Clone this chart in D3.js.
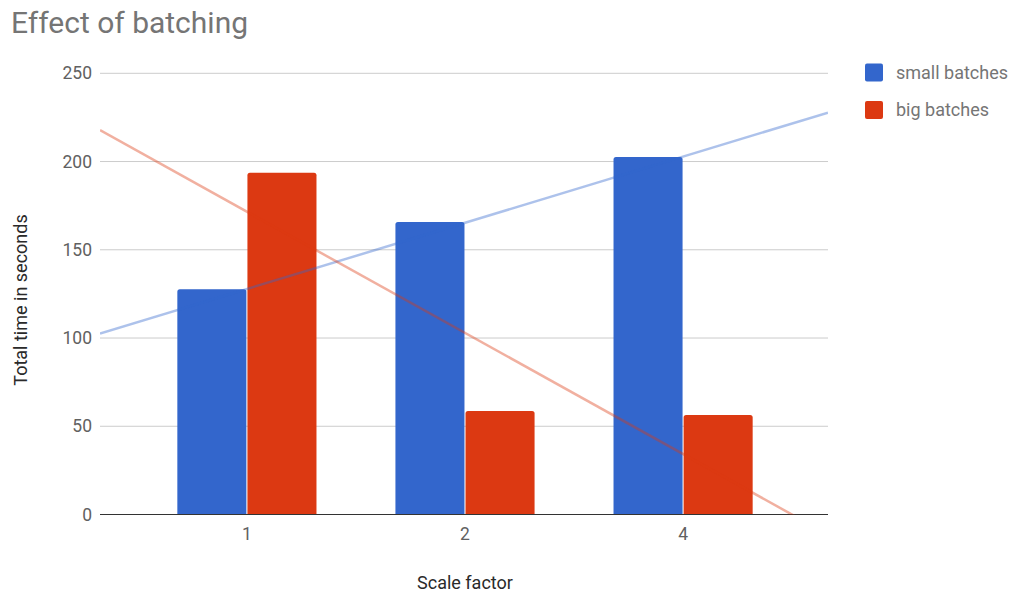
<!DOCTYPE html>
<html>
<head>
<meta charset="utf-8">
<script src="https://cdn.jsdelivr.net/npm/d3@7"></script>
<style>
  html, body { margin: 0; padding: 0; background: #fff; }
  svg { display: block; font-family: Roboto, "Noto Sans", sans-serif; }
</style>
</head>
<body>
<svg id="chart" width="1013" height="596"></svg>
<script>
// Scale factors on the x axis
const categories = ["1", "2", "4"];
// Series names and colours
const seriesNames = ["small batches", "big batches"];
const seriesColors = ["#3366cc", "#dc3912"];
// Total time in seconds for each scale factor
const smallBatches = [127.6, 165.7, 202.6];
const bigBatches = [193.7, 58.6, 56.4];
// Y axis ticks
const yTicks = [0, 50, 100, 150, 200, 250];

const seriesValues = [smallBatches, bigBatches];

const svg = d3.select("#chart");
const plot = { left: 100, right: 828, top: 73.3, bottom: 514.5 };

const x = d3.scaleBand()
  .domain(categories)
  .range([plot.left + 1, plot.right + 1])
  .paddingInner(0.362)
  .paddingOuter(0.35);

const xSeries = d3.scaleBand()
  .domain(seriesNames)
  .range([0, x.bandwidth()])
  .paddingInner(0.015);

const y = d3.scaleLinear()
  .domain([0, 250])
  .range([plot.bottom, plot.top]);

// Title
svg.append("text")
  .attr("x", 11)
  .attr("y", 33)
  .attr("font-size", 30)
  .attr("fill", "#757575")
  .text("Effect of batching");

// Gridlines
svg.append("g")
  .selectAll("line")
  .data(yTicks.filter(d => d !== 0))
  .join("line")
  .attr("x1", plot.left)
  .attr("x2", plot.right)
  .attr("y1", d => y(d))
  .attr("y2", d => y(d))
  .attr("stroke", "#cccccc")
  .attr("stroke-width", 1);

// Y axis labels
const yAxis = d3.axisLeft(y).tickValues(yTicks).tickSize(0).tickPadding(8);
const yg = svg.append("g")
  .attr("transform", `translate(${plot.left},0)`)
  .call(yAxis);
yg.select(".domain").remove();
yg.selectAll("text")
  .attr("font-family", "Roboto, sans-serif")
  .attr("font-size", 17.5)
  .attr("fill", "#616161");

// Clip region for the trendlines
const clipId = "plot-clip";
svg.append("defs").append("clipPath").attr("id", clipId)
  .append("rect")
  .attr("x", plot.left).attr("y", plot.top)
  .attr("width", plot.right - plot.left)
  .attr("height", plot.bottom - plot.top);

// Bars
const barGroups = svg.append("g")
  .selectAll("g")
  .data(seriesNames.map((name, i) => ({ name, color: seriesColors[i], values: seriesValues[i] })))
  .join("g")
  .attr("fill", d => d.color);

function barPath(x0, w, yTop, yBase, r) {
  return `M${x0},${yBase}V${yTop + r}Q${x0},${yTop} ${x0 + r},${yTop}` +
    `H${x0 + w - r}Q${x0 + w},${yTop} ${x0 + w},${yTop + r}V${yBase}Z`;
}

barGroups.selectAll("path")
  .data(s => s.values.map((v, i) => ({ name: s.name, cat: categories[i], v })))
  .join("path")
  .attr("d", d => barPath(
    x(d.cat) + xSeries(d.name),
    xSeries.bandwidth(),
    y(d.v),
    y(0),
    2.5));

// Baseline
svg.append("line")
  .attr("x1", plot.left).attr("x2", plot.right)
  .attr("y1", y(0)).attr("y2", y(0))
  .attr("stroke", "#333333")
  .attr("stroke-width", 1.2);

// Linear trendlines fitted on category index (1, 2, 3)
const idx = categories.map((c, i) => i + 1);
const xIdx = d3.scaleLinear()
  .domain([1, categories.length])
  .range([x(categories[0]) + x.bandwidth() / 2, x(categories[categories.length - 1]) + x.bandwidth() / 2]);

function fit(values) {
  const mx = d3.mean(idx), my = d3.mean(values);
  let num = 0, den = 0;
  idx.forEach((xi, i) => { num += (xi - mx) * (values[i] - my); den += (xi - mx) ** 2; });
  const slope = num / den;
  return t => my + slope * (t - mx);
}

const trendG = svg.append("g").attr("clip-path", `url(#${clipId})`);
seriesValues.forEach((vals, i) => {
  const f = fit(vals);
  const t0 = xIdx.invert(plot.left), t1 = xIdx.invert(plot.right);
  trendG.append("line")
    .attr("x1", xIdx(t0)).attr("y1", y(f(t0)))
    .attr("x2", xIdx(t1)).attr("y2", y(f(t1)))
    .attr("stroke", seriesColors[i])
    .attr("stroke-opacity", 0.4)
    .attr("stroke-width", 2.5);
});

// X axis labels
const xAxis = d3.axisBottom(x).tickSize(0).tickPadding(13);
const xg = svg.append("g")
  .attr("transform", `translate(0,${plot.bottom})`)
  .call(xAxis);
xg.select(".domain").remove();
xg.selectAll("text")
  .attr("font-family", "Roboto, sans-serif")
  .attr("font-size", 17.5)
  .attr("fill", "#616161");

// Axis titles
svg.append("text")
  .attr("x", (plot.left + plot.right) / 2 + 1)
  .attr("y", 589)
  .attr("text-anchor", "middle")
  .attr("font-size", 18)
  .attr("fill", "#2a2a2a")
  .text("Scale factor");

svg.append("text")
  .attr("transform", "translate(27,300) rotate(-90)")
  .attr("text-anchor", "middle")
  .attr("font-size", 18)
  .attr("fill", "#2a2a2a")
  .text("Total time in seconds");

// Legend
const legend = svg.append("g")
  .selectAll("g")
  .data(seriesNames)
  .join("g")
  .attr("transform", (d, i) => `translate(865,${63.5 + i * 37.5})`);
legend.append("rect")
  .attr("width", 18).attr("height", 18)
  .attr("rx", 2).attr("ry", 2)
  .attr("fill", (d, i) => seriesColors[i]);
legend.append("text")
  .attr("x", 31)
  .attr("y", 9)
  .attr("dy", "0.35em")
  .attr("font-size", 18)
  .attr("fill", "#757575")
  .text(d => d);
</script>
</body>
</html>
